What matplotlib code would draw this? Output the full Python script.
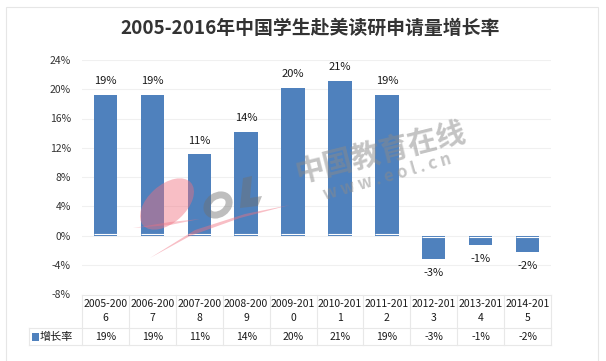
import matplotlib
matplotlib.use("Agg")
import matplotlib.pyplot as plt
from matplotlib.patches import Rectangle, Ellipse, Polygon
from matplotlib.lines import Line2D

plt.rcParams['font.family'] = ['Noto Sans CJK SC', 'DejaVu Sans']

title = "2005-2016年中国学生赴美读研申请量增长率"
categories_top = ["2005-200", "2006-200", "2007-200", "2008-200", "2009-201",
                  "2010-201", "2011-201", "2012-201", "2013-201", "2014-201"]
categories_bot = ["6", "7", "8", "9", "0", "1", "2", "3", "4", "5"]
values = [19.2, 19.2, 11.1, 14.2, 20.2, 21.1, 19.2, -3.2, -1.3, -2.3]
value_labels = ["19%", "19%", "11%", "14%", "20%", "21%", "19%", "-3%", "-1%", "-2%"]
series_name = "增长率"
yticks = [-8, -4, 0, 4, 8, 12, 16, 20, 24]

W, H = 606, 361
fig = plt.figure(figsize=(W / 100, H / 100), dpi=100)
fig.patch.set_facecolor("white")

def fx(px):
    return px / W

def fy(py):
    return 1 - py / H

# outer frame
fig.add_artist(Rectangle((fx(5.5), fy(366)), fx(592), 359 / H, transform=fig.transFigure,
                         fill=False, edgecolor="#e6e6e6", linewidth=0.8))

# title
fig.text(fx(310.5), fy(28), title, ha="center", va="center", fontsize=13.6,
         fontweight="bold", color="#333333")

left, right, top, bottom = 82, 551, 60, 294
ax = fig.add_axes([fx(left), fy(bottom), (right - left) / W, (bottom - top) / H])
n = len(values)
ax.set_xlim(-0.5, n - 0.5)
ax.set_ylim(-8, 24)
ax.set_yticks(yticks)
ax.set_yticklabels([f"{t}%" for t in yticks], fontsize=7.5, color="#333333")
ax.tick_params(axis="y", length=0, pad=8)
ax.tick_params(axis="x", length=0, labelbottom=False)
for s in ax.spines.values():
    s.set_visible(False)
ax.set_xticks([])
ax.grid(axis="y", color="#f0f0f0", linewidth=0.8)
ax.set_axisbelow(True)

bar_color = "#4F81BD"
xs = list(range(n))
bars = ax.bar(xs, values, width=0.5, color=bar_color, zorder=3)
for x, v, lab in zip(xs, values, value_labels):
    ax.plot([x - 0.25, x + 0.25], [0.2 if v > 0 else -0.2] * 2, color="white",
            linewidth=0.8, zorder=4, solid_capstyle="butt")
    if v >= 0:
        ax.text(x, v + 1.2, lab, ha="center", va="bottom", fontsize=8, color="#1a1a1a", zorder=5)
    else:
        ax.text(x, v - 1.2, lab, ha="center", va="top", fontsize=8, color="#1a1a1a", zorder=5)

# watermark overlay in pixel coordinates
wm = fig.add_axes([0, 0, 1, 1], zorder=10)
wm.set_xlim(0, W)
wm.set_ylim(H, 0)
wm.axis("off")
wm.patch.set_alpha(0)
pink = "#f07080"
wm.add_patch(Ellipse((167, 204), 64, 38, angle=-42, facecolor=pink, alpha=0.45, edgecolor="none"))
wm.add_patch(Polygon([(150, 258), (190, 236), (240, 218), (290, 205), (245, 214), (195, 230)],
                     closed=True, facecolor=pink, alpha=0.45, edgecolor="none"))
wm.add_patch(Polygon([(133, 228), (170, 222), (200, 219), (170, 225)],
                     closed=True, facecolor=pink, alpha=0.4, edgecolor="none"))
wm.add_patch(Ellipse((218, 205), 24, 18, angle=-35, facecolor="none", edgecolor="#707070",
                     linewidth=5, alpha=0.45))
wm.add_patch(Polygon([(243, 178), (252, 176), (250, 198), (262, 196), (258, 206), (240, 208)],
                     closed=True, facecolor="#707070", alpha=0.45, edgecolor="none"))
wm.text(380, 152, "中国教育在线", fontsize=21, fontweight="bold", color="#8a8a8a", alpha=0.5,
        rotation=14, ha="center", va="center")
wm.text(387, 177, "w w w . e o l . c n", fontsize=12, fontweight="bold", color="#8a8a8a",
        alpha=0.5, rotation=16, ha="center", va="center")

# data table
colw = (right - left) / n
grid_c = "#e8e8e8"
t_top, t_mid, t_bot = 295, 328, 345
def hline(x0, x1, y):
    fig.add_artist(Line2D([fx(x0), fx(x1)], [fy(y), fy(y)], transform=fig.transFigure,
                          color=grid_c, linewidth=0.8))
def vline(x, y0, y1):
    fig.add_artist(Line2D([fx(x), fx(x)], [fy(y0), fy(y1)], transform=fig.transFigure,
                          color=grid_c, linewidth=0.8))
hline(left, right, t_top)
hline(29, right, t_mid)
hline(29, right, t_bot)
for i in range(n + 1):
    vline(left + i * colw, t_top, t_bot)
vline(29, t_mid, t_bot)

for i in range(n):
    cx = left + (i + 0.5) * colw
    fig.text(fx(cx), fy(304), categories_top[i], ha="center", va="center", fontsize=7.5, color="#1a1a1a")
    fig.text(fx(cx), fy(318), categories_bot[i], ha="center", va="center", fontsize=7.5, color="#1a1a1a")
    fig.text(fx(cx), fy(337), value_labels[i], ha="center", va="center", fontsize=7.5, color="#1a1a1a")

fig.add_artist(Rectangle((fx(32), fy(341)), 7 / W, 8 / H, transform=fig.transFigure,
                         facecolor=bar_color, edgecolor="none"))
fig.text(fx(40), fy(337), series_name, ha="left", va="center", fontsize=8, color="#1a1a1a")

fig.savefig("out.png", dpi=100, facecolor="white")
